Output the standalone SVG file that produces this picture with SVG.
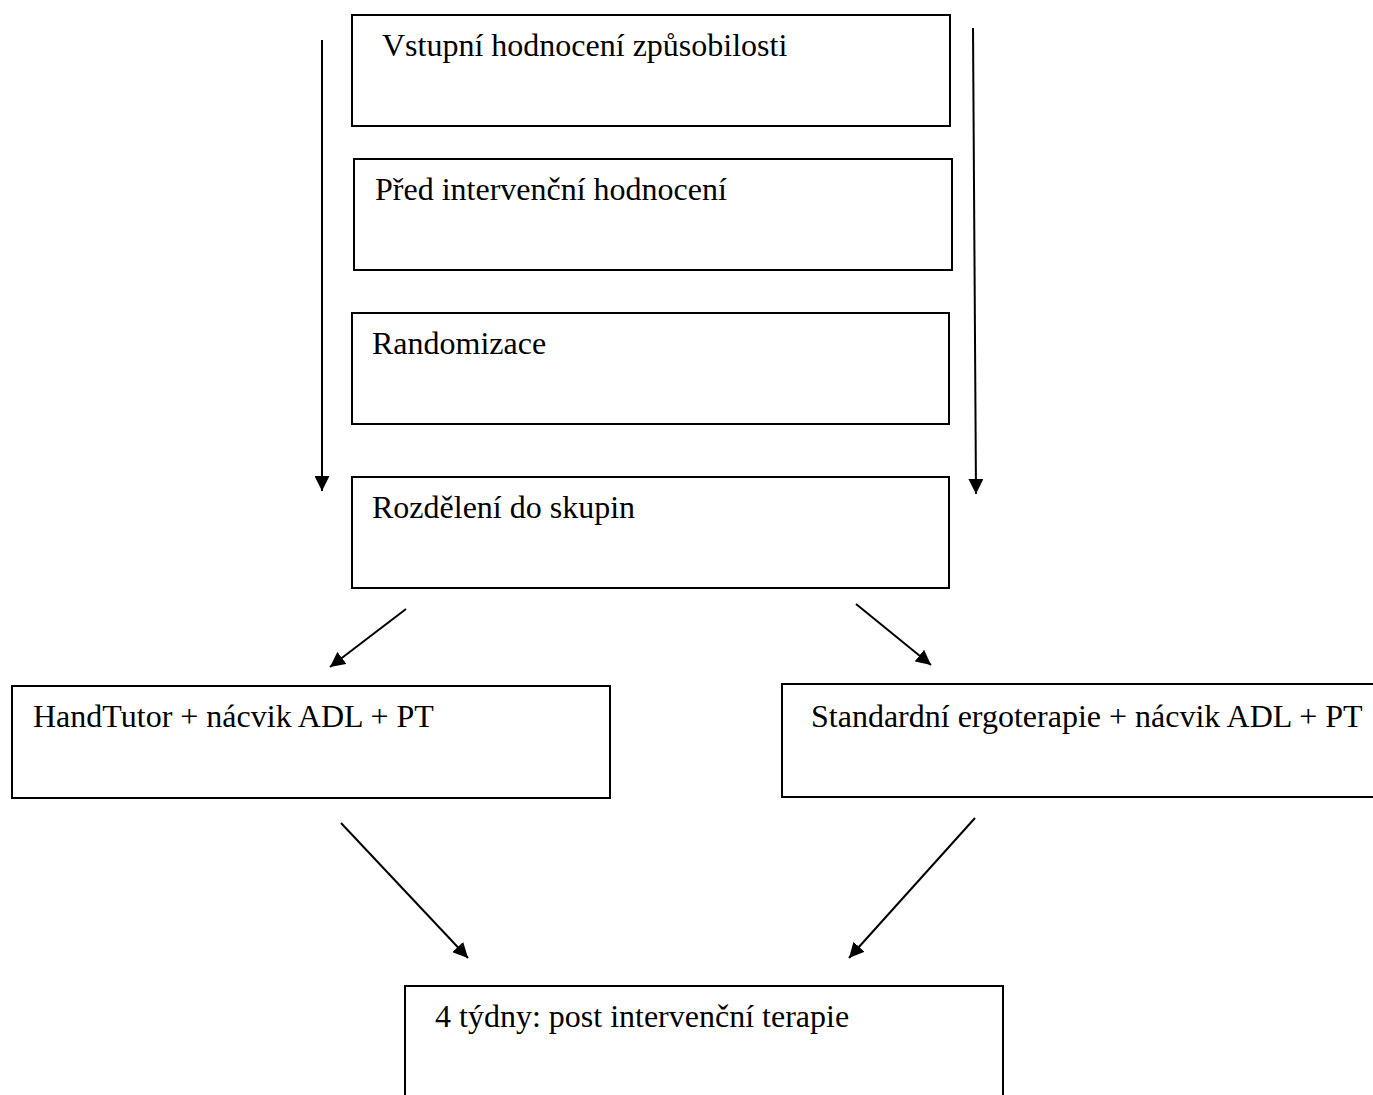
<svg xmlns="http://www.w3.org/2000/svg" width="1373" height="1095" viewBox="0 0 1373 1095">
<style>
.box{fill:#fff;stroke:#000;stroke-width:2}
.t{font-family:'Liberation Serif','Times New Roman','DejaVu Serif',serif;font-size:32px;fill:#000}
.c{stroke:#000;stroke-width:2;fill:none}
</style>
<defs>
<marker id="ah" viewBox="0 0 15 15" refX="15" refY="7.5" markerWidth="15" markerHeight="15" markerUnits="userSpaceOnUse" orient="auto">
<path d="M0,0 L15,7.5 L0,15 z" fill="#000"/>
</marker>
</defs>
<rect width="1373" height="1095" fill="#fff"/>
<g id="connectors">
<line class="c" x1="322" y1="40" x2="322" y2="491" marker-end="url(#ah)"/>
<line class="c" x1="973" y1="28" x2="976" y2="494" marker-end="url(#ah)"/>
<line class="c" x1="406" y1="609" x2="330" y2="667" marker-end="url(#ah)"/>
<line class="c" x1="856" y1="604" x2="931" y2="665" marker-end="url(#ah)"/>
<line class="c" x1="341" y1="823" x2="468" y2="958" marker-end="url(#ah)"/>
<line class="c" x1="975" y1="818" x2="849" y2="958" marker-end="url(#ah)"/>
</g>
<g id="n1"><rect class="box" x="352" y="15" width="598" height="111"/><text class="t" x="382" y="56">Vstupní hodnocení způsobilosti</text></g>
<g id="n2"><rect class="box" x="354" y="159" width="598" height="111"/><text class="t" x="375" y="200">Před intervenční hodnocení</text></g>
<g id="n3"><rect class="box" x="352" y="313" width="597" height="111"/><text class="t" x="372" y="354">Randomizace</text></g>
<g id="n4"><rect class="box" x="352" y="477" width="597" height="111"/><text class="t" x="372" y="518">Rozdělení do skupin</text></g>
<g id="n5"><rect class="box" x="12" y="686" width="598" height="112"/><text class="t" x="33" y="727">HandTutor + nácvik ADL + PT</text></g>
<g id="n6"><rect class="box" x="782" y="684" width="600" height="113"/><text class="t" x="811" y="727">Standardní ergoterapie + nácvik ADL + PT</text></g>
<g id="n7"><rect class="box" x="405" y="986" width="598" height="120"/><text class="t" x="435" y="1027">4 týdny: post intervenční terapie</text></g>
</svg>
